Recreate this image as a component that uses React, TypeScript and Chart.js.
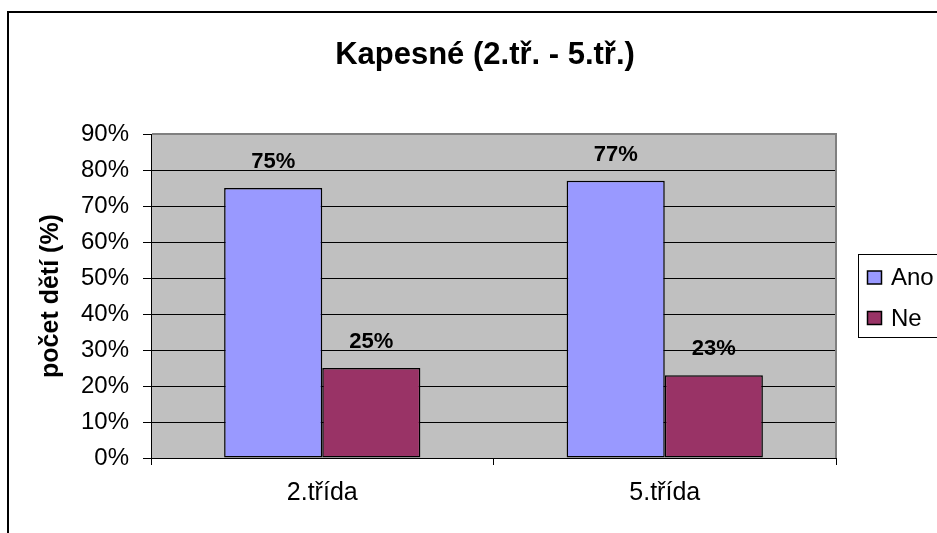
import React, { useEffect, useRef } from "react";
import { Chart, registerables } from "chart.js";

Chart.register(...registerables);

const categories = ["2.třída", "5.třída"];
const anoValues = [75, 77];
const neValues = [25, 23];
const seriesNames = ["Ano", "Ne"];
const yTicks = [0, 10, 20, 30, 40, 50, 60, 70, 80, 90];
const chartTitle = "Kapesné (2.tř. - 5.tř.)";
const yTitle = "počet dětí (%)";

const FONT = "'Liberation Sans', Arial, sans-serif";
const COLORS = ["#9999FF", "#993366"];

export default function App() {
  const ref = useRef<HTMLCanvasElement | null>(null);

  useEffect(() => {
    document.body.style.margin = "0";
    const canvas = ref.current;
    if (!canvas) return;

    const decor = {
      id: "decor",
      beforeDraw(chart: any) {
        const { ctx, chartArea: a, width, height } = chart;
        ctx.save();
        ctx.fillStyle = "#fff";
        ctx.fillRect(0, 0, width, height);
        ctx.strokeStyle = "#000";
        ctx.lineWidth = 2;
        ctx.beginPath();
        ctx.moveTo(8, height + 2);
        ctx.lineTo(8, 12);
        ctx.lineTo(width + 2, 12);
        ctx.stroke();
        ctx.fillStyle = "#C0C0C0";
        ctx.fillRect(a.left, a.top, a.right - a.left, a.bottom - a.top);
        ctx.restore();
      },
      beforeDatasetsDraw(chart: any) {
        const { ctx, chartArea: a } = chart;
        ctx.save();
        ctx.strokeStyle = "#808080";
        ctx.lineWidth = 2;
        ctx.beginPath();
        ctx.moveTo(a.left + 1, a.top);
        ctx.lineTo(a.right, a.top);
        ctx.lineTo(a.right, a.bottom);
        ctx.stroke();
        ctx.restore();
      },
      afterDatasetsDraw(chart: any) {
        const { ctx } = chart;
        ctx.save();
        ctx.fillStyle = "#000";
        ctx.font = `bold 22px ${FONT}`;
        ctx.textAlign = "center";
        ctx.textBaseline = "alphabetic";
        chart.data.datasets.forEach((ds: any, di: number) => {
          const meta = chart.getDatasetMeta(di);
          meta.data.forEach((bar: any, i: number) => {
            ctx.fillText(ds.data[i] + "%", bar.x, bar.y - 20);
          });
        });
        ctx.restore();
      },
      afterDraw(chart: any) {
        const { ctx, chartArea: a } = chart;
        ctx.save();
        ctx.fillStyle = "#000";
        ctx.font = `bold 31px ${FONT}`;
        ctx.textAlign = "center";
        ctx.textBaseline = "alphabetic";
        ctx.fillText(chartTitle, 485, 64);
        ctx.save();
        ctx.translate(51, (a.top + a.bottom) / 2);
        ctx.rotate(-Math.PI / 2);
        ctx.font = `bold 25px ${FONT}`;
        ctx.textBaseline = "middle";
        ctx.fillText(yTitle, 0, 0);
        ctx.restore();
        ctx.strokeStyle = "#000";
        ctx.lineWidth = 1;
        ctx.strokeRect(858.5, 254.5, 120, 83);
        ctx.font = `24px ${FONT}`;
        ctx.textAlign = "left";
        const rows = [277.5, 318];
        seriesNames.forEach((name, i) => {
          const cy = rows[i];
          ctx.fillStyle = COLORS[i];
          ctx.fillRect(867.5, cy - 6.5, 14, 13);
          ctx.strokeStyle = "#000";
          ctx.lineWidth = 1.5;
          ctx.strokeRect(867.5, cy - 6.5, 14, 13);
          ctx.fillStyle = "#000";
          ctx.textBaseline = "middle";
          ctx.fillText(name, 891, cy + 1);
        });
        ctx.restore();
      },
    };

    const chart = new Chart(canvas, {
      type: "bar",
      data: {
        labels: categories,
        datasets: [
          {
            label: seriesNames[0],
            data: anoValues,
            backgroundColor: COLORS[0],
            borderColor: "#000",
            borderWidth: 1.5,
            borderSkipped: false,
          },
          {
            label: seriesNames[1],
            data: neValues,
            backgroundColor: COLORS[1],
            borderColor: "#000",
            borderWidth: 1.5,
            borderSkipped: false,
          },
        ],
      },
      options: {
        responsive: false,
        animation: false,
        devicePixelRatio: 1,
        layout: { padding: { left: 0, top: 134, right: 101, bottom: 0 } },
        datasets: { bar: { categoryPercentage: 0.573, barPercentage: 1 } },
        plugins: {
          legend: { display: false },
          title: { display: false },
          tooltip: { enabled: false },
        },
        scales: {
          x: {
            offset: true,
            grid: {
              display: true,
              drawOnChartArea: false,
              drawTicks: true,
              tickLength: 7,
              color: "#000",
              offset: true,
            },
            border: { display: true, color: "#000", width: 1 },
            ticks: {
              color: "#000",
              font: { family: FONT, size: 25 },
              padding: 13,
            },
            afterFit(scale: any) {
              scale.height = 75;
            },
          },
          y: {
            min: 0,
            max: 90,
            afterBuildTicks(scale: any) {
              scale.ticks = yTicks.map((v) => ({ value: v }));
            },
            grid: {
              color: "#000",
              tickLength: 8,
              drawTicks: true,
            },
            border: { display: true, color: "#000", width: 1 },
            ticks: {
              color: "#000",
              font: { family: FONT, size: 24 },
              padding: 14,
              callback: (v: any) => v + "%",
            },
            afterFit(scale: any) {
              scale.width = 151;
            },
          },
        },
      },
      plugins: [decor],
    });

    return () => chart.destroy();
  }, []);

  return (
    <canvas
      ref={ref}
      width={937}
      height={533}
      style={{ display: "block", width: 937, height: 533 }}
    />
  );
}
